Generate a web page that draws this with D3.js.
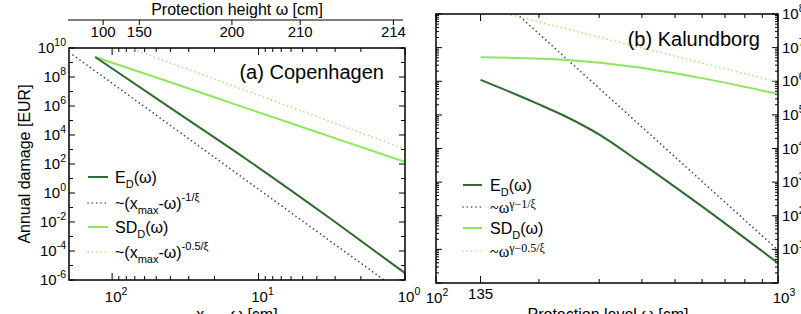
<!DOCTYPE html>
<html>
<head>
<meta charset="utf-8">
<script src="https://cdn.jsdelivr.net/npm/d3@7"></script>
<style>
  body { margin: 0; background: #fff; }
  svg { display: block; font-family: "Liberation Sans", Arial, sans-serif; }
</style>
</head>
<body>
<svg id="chart" width="801" height="314"></svg>
<script>
// ---- data ----
// (a) Copenhagen, x axis is x_max - omega [cm]
var cphXmax = 215.2;
var cphTopTicks = [100, 150, 200, 210, 214];
var cphDist = [130.6, 40, 11.9, 3.2, 1];
var cphED = [2.4e9, 7.4e5, 190, 0.016, 3.0e-6];
var cphSD = [2.4e9, 4.3e7, 6.6e5, 7.4e3, 140];
var cphRefEDDist = [185, 1.39];
var cphRefED = [3.3e9, 1e-6];
var cphRefSDDist = [75.3, 1];
var cphRefSD = [1e10, 1.07e3];

// (b) Kalundborg, x axis is protection level omega [cm]
var kalOmega = [135, 197, 242, 302, 387, 591, 1000];
var kalED = [1.1e6, 2.2e5, 8.5e4, 2.5e4, 4.5e3, 210, 3.9];
var kalSDOmega = [135, 242, 387, 591, 1000];
var kalSD = [5.2e6, 4.3e6, 2.6e6, 1.26e6, 4.2e5];
var kalRefEDOmega = [172.6, 1000];
var kalRefED = [1e8, 9.5];
var kalRefSDOmega = [161.3, 1000];
var kalRefSD = [1e8, 9.5e5];

var dark = "#2f6a2f", light = "#8ee65c", darkDot = "#3a4a3a", lightDot = "#a8e27c";
var fs = 16;     // axis titles, legend
var tfs = 15;    // tick labels

var svg = d3.select("#chart");
var defs = svg.append("defs");

function zip(xs, ys){ return xs.map(function(x,i){ return [x, ys[i]]; }); }

// text like 10^n
function powLabel(g, x, y, base, exp, anchor, size){
  var t = g.append("text").attr("x", x).attr("y", y).attr("text-anchor", anchor)
    .style("font-size", size + "px");
  t.append("tspan").text(base);
  t.append("tspan").attr("dy", -size*0.45).style("font-size", (size*0.7) + "px").text(exp);
  return t;
}

function panel(id, x0, x1, y0, y1){
  var g = svg.append("g");
  defs.append("clipPath").attr("id", id).append("rect")
    .attr("x", x0).attr("y", y0).attr("width", x1-x0).attr("height", y1-y0);
  return g;
}

function drawLine(g, clip, x, y, pts, color, w, dash){
  var line = d3.line().x(function(d){ return x(d[0]); }).y(function(d){ return y(d[1]); })
    .curve(d3.curveMonotoneX);
  var p = g.append("path").attr("d", line(pts.slice().sort(function(a,b){ return x(a[0]) - x(b[0]); })))
    .attr("fill", "none").attr("stroke", color).attr("stroke-width", w)
    .attr("clip-path", "url(#" + clip + ")");
  if (dash) p.attr("stroke-dasharray", dash).attr("stroke-linecap", "round");
}

function logTicksX(g, x, yb, yt, ticks, majorTest){
  ticks.forEach(function(v){
    var len = majorTest(v) ? 7 : 4;
    g.append("line").attr("x1", x(v)).attr("x2", x(v)).attr("y1", yb).attr("y2", yb-len)
      .attr("stroke", "#000").attr("stroke-width", 1);
    g.append("line").attr("x1", x(v)).attr("x2", x(v)).attr("y1", yt).attr("y2", yt+len)
      .attr("stroke", "#000").attr("stroke-width", 1);
  });
}
function logTicksY(g, y, xl, xr, ticks, lenFn){
  ticks.forEach(function(v){
    var len = lenFn(v);
    g.append("line").attr("y1", y(v)).attr("y2", y(v)).attr("x1", xl).attr("x2", xl+len)
      .attr("stroke", "#000").attr("stroke-width", 1);
    g.append("line").attr("y1", y(v)).attr("y2", y(v)).attr("x1", xr).attr("x2", xr-len)
      .attr("stroke", "#000").attr("stroke-width", 1);
  });
}
function isDecade(v){ var l = Math.log10(v); return Math.abs(l - Math.round(l)) < 1e-6; }

function legendRows(g, rows, lx0, lx1, tx){
  rows.forEach(function(r){
    var l = g.append("line").attr("x1", lx0).attr("x2", lx1).attr("y1", r.y).attr("y2", r.y)
      .attr("stroke", r.c).attr("stroke-width", r.dash ? 1.6 : 2);
    if (r.dash) l.attr("stroke-dasharray", r.dash).attr("stroke-linecap", "round");
    var t = g.append("text").attr("x", tx).attr("y", r.y + 6).style("font-size", fs + "px");
    if (r.serif) t.style("font-family", "'Liberation Serif', serif");
    var level = 0;
    r.parts.forEach(function(p){
      var target = p[1] === 1 ? 5 : (p[1] === 2 ? (r.serif ? -5 : -8) : 0);
      var s = t.append("tspan").attr("dy", target - level).text(p[0]);
      if (p[1] !== 0) s.style("font-size", (r.serif ? 12 : 11) + "px");
      level = target;
    });
  });
}

// ================= (a) Copenhagen =================
var aL = 69, aR = 405, aT = 48, aB = 280;
var xA = d3.scaleLog().domain([197, 1]).range([aL, aR]);
var yA = d3.scaleLog().domain([1e-6, 1e10]).range([aB, aT]);
var gA = panel("clipA", aL, aR, aT, aB);

logTicksX(gA, xA, aB, aT, xA.ticks(), isDecade);
var yAdec = d3.range(-6, 11).map(function(e){ return Math.pow(10, e); });
logTicksY(gA, yA, aL, aR, yAdec, function(v){ return Math.round(Math.log10(v)) % 2 === 0 ? 6 : 4; });

drawLine(gA, "clipA", xA, yA, zip(cphRefEDDist, cphRefED), darkDot, 1.6, "0.1,4.2");
drawLine(gA, "clipA", xA, yA, zip(cphRefSDDist, cphRefSD), lightDot, 1.6, "0.1,4.2");
drawLine(gA, "clipA", xA, yA, zip(cphDist, cphSD), light, 2);
drawLine(gA, "clipA", xA, yA, zip(cphDist, cphED), dark, 2);

gA.append("rect").attr("x", aL).attr("y", aT).attr("width", aR-aL).attr("height", aB-aT)
  .attr("fill", "none").attr("stroke", "#000").attr("stroke-width", 1.5);

// y labels
d3.range(-6, 11, 2).forEach(function(e){
  powLabel(gA, 66, yA(Math.pow(10, e)) + 5, "10", String(e), "end", tfs);
});
// bottom labels
[100, 10, 1].forEach(function(v){
  powLabel(gA, xA(v) + 4, 302, "10", String(Math.round(Math.log10(v))), "middle", tfs);
});
var tA = gA.append("text").attr("x", 237).attr("y", 320).attr("text-anchor", "middle").style("font-size", fs + "px");
tA.append("tspan").text("x");
tA.append("tspan").attr("dy", 4).style("font-size", "11px").text("max");
tA.append("tspan").attr("dy", -4).text("-ω  [cm]");

// top axis: protection height
var topY = 20;
gA.append("line").attr("x1", aL - 1).attr("x2", aR - 2).attr("y1", topY).attr("y2", topY)
  .attr("stroke", "#000").attr("stroke-width", 1.2);
cphTopTicks.forEach(function(w){
  var px = xA(cphXmax - w);
  gA.append("line").attr("x1", px).attr("x2", px).attr("y1", topY).attr("y2", topY + 5)
    .attr("stroke", "#000").attr("stroke-width", 1);
  gA.append("text").attr("x", px).attr("y", 37).attr("text-anchor", "middle")
    .style("font-size", tfs + "px").text(w);
});
gA.append("text").attr("x", 237).attr("y", 15).attr("text-anchor", "middle")
  .style("font-size", fs + "px").text("Protection height ω  [cm]");

gA.append("text").attr("transform", "translate(30,164) rotate(-90)").attr("text-anchor", "middle")
  .style("font-size", fs + "px").text("Annual damage  [EUR]");

gA.append("text").attr("x", 384).attr("y", 79).attr("text-anchor", "end")
  .style("font-size", "20px").text("(a) Copenhagen");

// legend (a)
var legA = [
  {y: 177, c: dark, dash: null, parts: [["E",0],["D",1],["(ω)",0]]},
  {y: 203, c: darkDot, dash: "0.1,4.2", parts: [["~(x",0],["max",1],["-ω)",0],["-1/ξ",2]]},
  {y: 227, c: light, dash: null, parts: [["SD",0],["D",1],["(ω)",0]]},
  {y: 252, c: lightDot, dash: "0.1,4.2", parts: [["~(x",0],["max",1],["-ω)",0],["-0.5/ξ",2]]}
];
legendRows(gA, legA, 88, 108, 115);

// ================= (b) Kalundborg =================
var bL = 436, bR = 778, bT = 14, bB = 283;
var xB = d3.scaleLog().domain([100, 1000]).range([bL, bR]);
var yB = d3.scaleLog().domain([1, 1e8]).range([bB, bT]);
var gB = panel("clipB", bL, bR, bT, bB);

logTicksX(gB, xB, bB, bT, xB.ticks().concat([135]), function(v){ return v === 135 || isDecade(v); });
logTicksY(gB, yB, bL, bR, yB.ticks(), function(v){ return isDecade(v) ? 6 : 3; });

drawLine(gB, "clipB", xB, yB, zip(kalRefEDOmega, kalRefED), darkDot, 1.6, "0.1,4.2");
drawLine(gB, "clipB", xB, yB, zip(kalRefSDOmega, kalRefSD), lightDot, 1.6, "0.1,4.2");
drawLine(gB, "clipB", xB, yB, zip(kalSDOmega, kalSD), light, 2);
drawLine(gB, "clipB", xB, yB, zip(kalOmega, kalED), dark, 2);

gB.append("rect").attr("x", bL).attr("y", bT).attr("width", bR-bL).attr("height", bB-bT)
  .attr("fill", "none").attr("stroke", "#000").attr("stroke-width", 1.5);

// right y labels (clipped by the picture edge)
d3.range(1, 9).forEach(function(e){
  powLabel(gB, 782, yB(Math.pow(10, e)) + 5, "10", String(e), "start", tfs);
});
powLabel(gB, xB(100) + 1, 303, "10", "2", "middle", tfs);
powLabel(gB, xB(1000) + 6, 303, "10", "3", "middle", tfs);
gB.append("text").attr("x", xB(135)) .attr("y", 299).attr("text-anchor", "middle")
  .style("font-size", tfs + "px").text("135");
gB.append("text").attr("x", 608).attr("y", 320).attr("text-anchor", "middle")
  .style("font-size", fs + "px").text("Protection level  ω  [cm]");

gB.append("text").attr("x", 760).attr("y", 46).attr("text-anchor", "end")
  .style("font-size", "20px").text("(b) Kalundborg");

var legB = [
  {y: 185, c: dark, dash: null, parts: [["E",0],["D",1],["(ω)",0]]},
  {y: 207, c: darkDot, dash: "0.1,4.2", serif: true, parts: [["~ω",0],["γ−1/ξ",2]]},
  {y: 228, c: light, dash: null, parts: [["SD",0],["D",1],["(ω)",0]]},
  {y: 251, c: lightDot, dash: "0.1,4.2", serif: true, parts: [["~ω",0],["γ−0.5/ξ",2]]}
];
legendRows(gB, legB, 463, 482, 490);
</script>
</body>
</html>
